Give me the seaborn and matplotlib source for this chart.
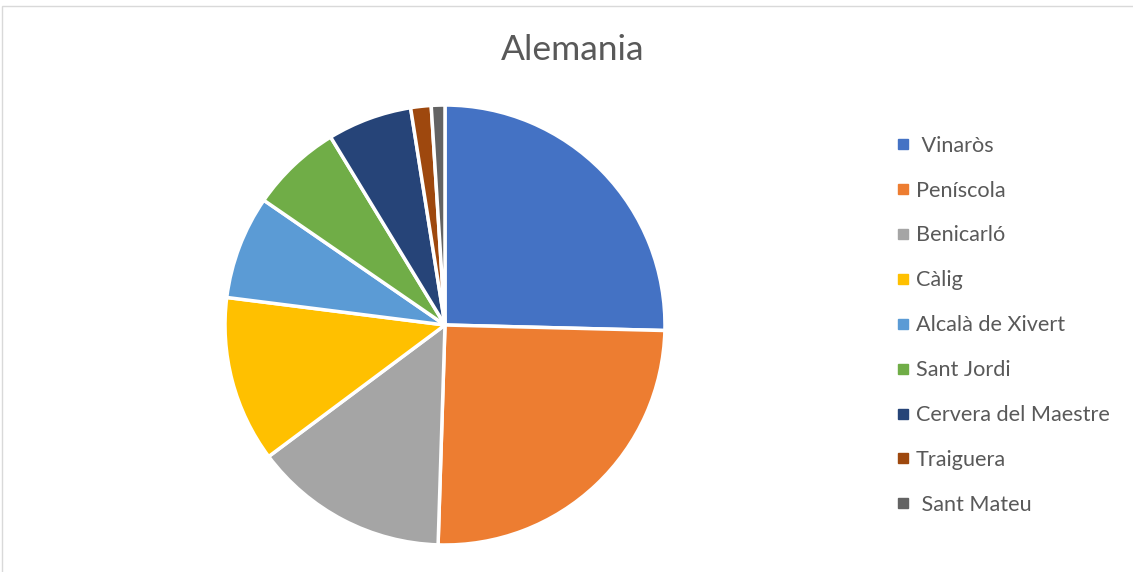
import matplotlib
matplotlib.use("Agg")
import matplotlib.pyplot as plt
import seaborn as sns
from matplotlib.lines import Line2D
from matplotlib.patches import Rectangle

municipis = [" Vinaròs", "Peníscola", "Benicarló", "Càlig", "Alcalà de Xivert",
             "Sant Jordi", "Cervera del Maestre", "Traiguera", " Sant Mateu"]
valors = [25.4, 25.1, 14.3, 12.2, 7.6, 6.7, 6.2, 1.5, 1.0]
colors = ["#4472C4", "#ED7D31", "#A5A5A5", "#FFC000", "#5B9BD5",
          "#70AD47", "#264478", "#9E480E", "#636363"]

sns.set_theme(style="white")
plt.rcParams['font.family'] = ['Lato', 'DejaVu Sans']

fig = plt.figure(figsize=(11.33, 5.72), dpi=100)
fig.patches.append(Rectangle((2 / 1133, -0.1), 1.2, (572 - 6) / 572 + 0.1,
                             transform=fig.transFigure, fill=False,
                             edgecolor="#D9D9D9", linewidth=1))

ax = fig.add_axes([0.1986, 0.0472, 0.3883, 0.7692])
ax.pie(valors, colors=colors, startangle=90, counterclock=False,
       wedgeprops=dict(edgecolor="white", linewidth=2.5))
ax.set_xlim(-1.0, 1.0)
ax.set_ylim(-1.0, 1.0)
ax.set_aspect("equal")

fig.text(0.505, 0.913, "Alemania", ha="center", va="center", fontsize=25.5, color="#595959")

handles = [Line2D([], [], marker="s", linestyle="", markersize=7, color=c) for c in colors]
fig.legend(handles, municipis, loc="upper left", bbox_to_anchor=(0.774, 0.797),
           frameon=False, fontsize=15.6, labelcolor="#595959", labelspacing=1.15,
           handlelength=0.6, handletextpad=0.3)

fig.savefig("out.png", dpi=100)
